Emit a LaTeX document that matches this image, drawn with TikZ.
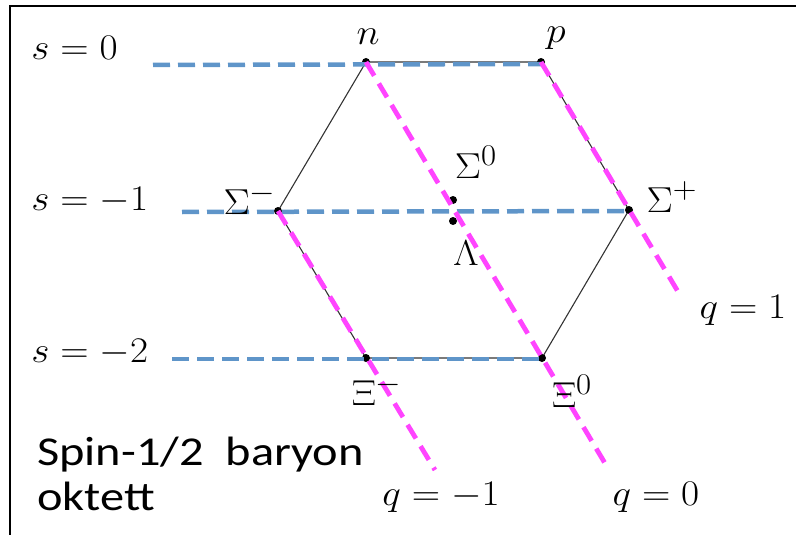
\documentclass[tikz,border=0pt]{standalone}
\usepackage{fontspec}
\newfontfamily\calib[FakeStretch=1.18]{Carlito}
\definecolor{sblue}{HTML}{5F95C9}
\definecolor{qmag}{HTML}{FF44FF}
\begin{document}
\begin{tikzpicture}[x=1pt,y=-1pt,
  edge/.style={black!80,line width=1.1pt},
  sline/.style={sblue,line width=4.5pt,dash pattern=on 17pt off 8pt},
  qline/.style={qmag,line width=4.8pt,dash pattern=on 16pt off 9pt},
  dot/.style={circle,fill=black,inner sep=0pt,minimum size=8pt},
  lbl/.style={font=\Huge,xscale=1.58,yscale=1.45,inner sep=0pt},
  txt/.style={font=\calib\fontsize{41}{44}\selectfont,inner sep=0pt,anchor=west}]
\useasboundingbox (0,0) rectangle (796,535);
\draw[line width=2pt] (10,560) -- (10,6) -- (820,6);
% particle positions
\coordinate (n) at (366,62);
\coordinate (p) at (541,62);
\coordinate (Sm) at (278,211);
\coordinate (Sp) at (629,210);
\coordinate (S0) at (453,200);
\coordinate (L) at (453,221);
\coordinate (Xm) at (366,358);
\coordinate (X0) at (542,358);
% free ends
\coordinate (s0a) at (153,65);
\coordinate (s0b) at (541,64);
\coordinate (s1a) at (182,212);
\coordinate (s1b) at (629,211);
\coordinate (s2a) at (172,359);
\coordinate (s2b) at (542,359);
\coordinate (q1e) at (680,295);
\coordinate (q0e) at (609,470);
\coordinate (qme) at (435,470);
% hexagon
\draw[edge] (n) -- (p) -- (Sp) -- (X0) -- (Xm) -- (Sm) -- cycle;
% dots
\foreach \c in {n,p,Sm,Sp,S0,L,Xm,X0} \node[dot] at (\c) {};
% strangeness lines
\draw[sline] (s0a) -- (s0b);
\draw[sline] (s1a) -- (s1b);
\draw[sline] (s2a) -- (s2b);
% charge lines
\draw[qline] (p) -- (q1e);
\draw[qline] (n) -- (q0e);
\draw[qline] (Sm) -- (qme);
% labels
\node[lbl,anchor=west] (ls0) at (31,48) {$s=0$};
\node[lbl,anchor=west] (ls1) at (31,200) {$s=-1$};
\node[lbl,anchor=west] (ls2) at (31,352) {$s=-2$};
\node[lbl] (ln) at (368,37) {$n$};
\node[lbl] (lp) at (556,38) {$p$};
\node[lbl] (lSm) at (250,199) {$\Sigma^-$};
\node[lbl] (lSp) at (672,197) {$\Sigma^+$};
\node[lbl] (lS0) at (476,162) {$\Sigma^0$};
\node[lbl] (lL) at (466,253) {$\Lambda$};
\node[lbl] (lXm) at (377,390) {$\Xi^-$};
\node[lbl] (lX0) at (572,391) {$\Xi^0$};
\node[lbl] (lq1) at (743,310) {$q=1$};
\node[lbl] (lq0) at (656,497) {$q=0$};
\node[lbl] (lqm) at (441,497) {$q=-1$};
\node[txt] (t1) at (37,455) {Spin-1/2\ \ baryon};
\node[txt] (t2) at (37,496) {oktett};
\end{tikzpicture}
\end{document}
